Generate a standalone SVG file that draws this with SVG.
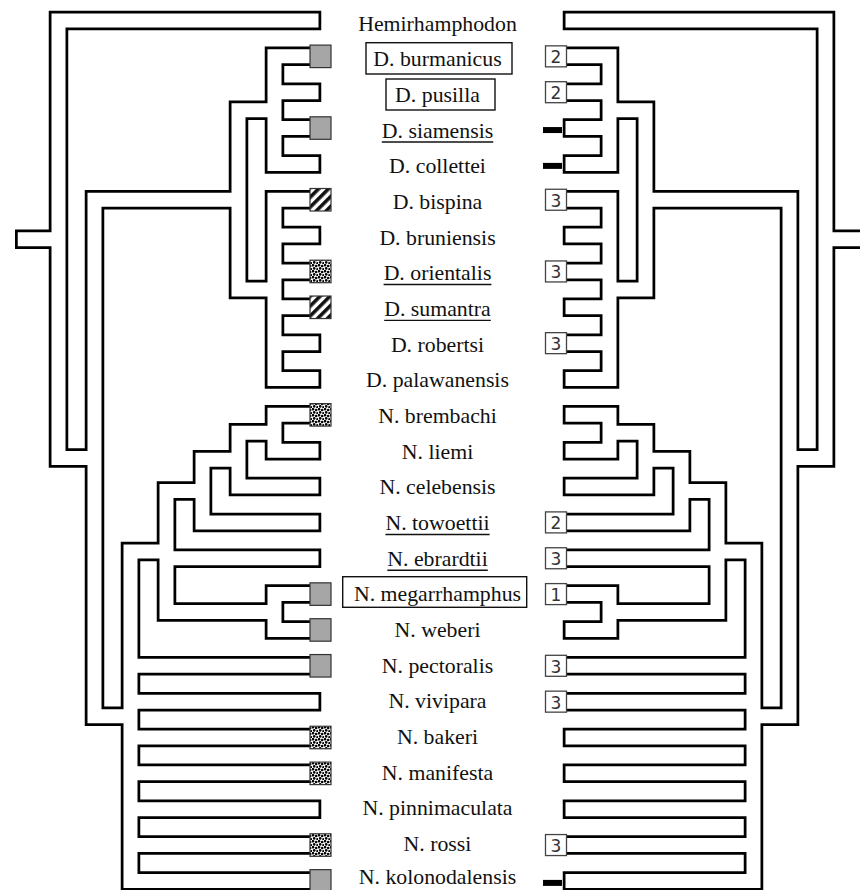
<svg xmlns="http://www.w3.org/2000/svg" xmlns:xlink="http://www.w3.org/1999/xlink" width="860" height="890" viewBox="0 0 860 890">
<defs>
<style>
.tb{fill:none;stroke:#000;stroke-width:19.5;stroke-linecap:square;stroke-linejoin:miter}
.tw{fill:none;stroke:#fff;stroke-width:14;stroke-linecap:square;stroke-linejoin:miter}
.lbl{font-family:'Liberation Serif','Times New Roman',serif;font-size:21.8px;fill:#111;text-anchor:middle}
.num{font-family:'DejaVu Sans',Verdana,sans-serif;font-size:17px;fill:#333;text-anchor:middle}
.gray{fill:#a6a6a6;stroke:#333;stroke-width:1.2}
.hat{fill:url(#hatch);stroke:#333;stroke-width:1.2}
.dot{fill:url(#dots);stroke:#333;stroke-width:1.2}
.nb{fill:#fff;stroke:#444;stroke-width:1.3}
.dash{fill:#000}
.ul{stroke:#111;stroke-width:1.4}
.lb{fill:none;stroke:#111;stroke-width:1.4}
</style>
<pattern id="hatch" patternUnits="userSpaceOnUse" width="7" height="7" patternTransform="rotate(45)"><rect width="7" height="7" fill="#fff"/><rect width="3.6" height="7" fill="#111"/></pattern>
<pattern id="dots" patternUnits="userSpaceOnUse" width="6" height="6"><rect width="6" height="6" fill="#fff"/><g fill="#000"><circle cx="1" cy="1.2" r="1.3"/><circle cx="4.2" cy="2" r="1.3"/><circle cx="2.2" cy="4.4" r="1.3"/><circle cx="5.3" cy="5.2" r="1.1"/></g></pattern>
<path id="tree" d="M24.75 239.24H58.5 M58.5 20.5V457.98 M58.5 20.5H311.5 M58.5 457.98H94.5 M94.5 199.75V716.2 M94.5 199.75H238.5 M238.5 110.13V289.38 M238.5 110.13H274.5 M238.5 289.38H274.5 M274.5 56.35V163.9 M274.5 56.35H311.5 M274.5 92.2H311.5 M274.5 128.05H311.5 M274.5 163.9H311.5 M274.5 199.75V379 M274.5 199.75H311.5 M274.5 235.6H311.5 M274.5 271.45H311.5 M274.5 307.3H311.5 M274.5 343.15H311.5 M274.5 379H311.5 M94.5 716.2H130.5 M130.5 551.53V880.9 M130.5 551.53H166.5 M130.5 665.8H311.5 M130.5 701.65H311.5 M130.5 737.5H311.5 M130.5 773.35H311.5 M130.5 809.2H311.5 M130.5 845.05H311.5 M130.5 880.9H311.5 M166.5 491.03V612.03 M166.5 491.03H202.5 M166.5 558.25H311.5 M166.5 612.03H274.5 M202.5 459.66V522.4 M202.5 459.66H238.5 M202.5 522.4H311.5 M238.5 432.78V486.55 M238.5 432.78H274.5 M238.5 486.55H311.5 M274.5 414.85V450.7 M274.5 414.85H311.5 M274.5 450.7H311.5 M274.5 594.1V629.95 M274.5 594.1H311.5 M274.5 629.95H311.5"/>
</defs>
<rect width="860" height="890" fill="#fff"/>
<g id="connectors">
<g id="left-tree"><use href="#tree" xlink:href="#tree" class="tb"/><use href="#tree" xlink:href="#tree" class="tw"/></g>
<g id="right-tree" transform="matrix(-1 0 0 1 884 0)"><use href="#tree" xlink:href="#tree" class="tb"/><use href="#tree" xlink:href="#tree" class="tw"/></g>
</g>
<g id="n-hemirhamphodon"><text class="lbl" x="437.5" y="30.5">Hemirhamphodon</text></g>
<g id="n-burmanicus"><rect class="gray" x="310" y="45.1" width="21" height="22.5"/><rect class="lb" x="366" y="42.7" width="146" height="31.3"/><text class="lbl" x="437.5" y="66.18">D. burmanicus</text><rect class="nb" x="545.5" y="45.85" width="21" height="21"/><text class="num" x="556" y="63.35">2</text></g>
<g id="n-pusilla"><rect class="lb" x="386" y="79" width="109" height="31"/><text class="lbl" x="437.5" y="101.86">D. pusilla</text><rect class="nb" x="545.5" y="81.7" width="21" height="21"/><text class="num" x="556" y="99.2">2</text></g>
<g id="n-siamensis"><rect class="gray" x="310" y="116.8" width="21" height="22.5"/><text class="lbl" x="437.5" y="137.54">D. siamensis</text><line class="ul" x1="381.8" y1="142" x2="493.2" y2="142"/><rect class="dash" x="543" y="127.05" width="19" height="6"/></g>
<g id="n-collettei"><text class="lbl" x="437.5" y="173.22">D. collettei</text><rect class="dash" x="543" y="162.9" width="19" height="6"/></g>
<g id="n-bispina"><rect class="hat" x="310" y="188.5" width="21" height="22.5"/><text class="lbl" x="437.5" y="208.9">D. bispina</text><rect class="nb" x="545.5" y="189.25" width="21" height="21"/><text class="num" x="556" y="206.75">3</text></g>
<g id="n-bruniensis"><text class="lbl" x="437.5" y="244.58">D. bruniensis</text></g>
<g id="n-orientalis"><rect class="dot" x="310" y="260.2" width="21" height="22.5"/><text class="lbl" x="437.5" y="280.26">D. orientalis</text><line class="ul" x1="383.6" y1="284.5" x2="491.4" y2="284.5"/><rect class="nb" x="545.5" y="260.95" width="21" height="21"/><text class="num" x="556" y="278.45">3</text></g>
<g id="n-sumantra"><rect class="hat" x="310" y="296.05" width="21" height="22.5"/><text class="lbl" x="437.5" y="315.94">D. sumantra</text><line class="ul" x1="384.2" y1="320.4" x2="490.8" y2="320.4"/></g>
<g id="n-robertsi"><text class="lbl" x="437.5" y="351.62">D. robertsi</text><rect class="nb" x="545.5" y="332.65" width="21" height="21"/><text class="num" x="556" y="350.15">3</text></g>
<g id="n-palawanensis"><text class="lbl" x="437.5" y="387.3">D. palawanensis</text></g>
<g id="n-brembachi"><rect class="dot" x="310" y="403.6" width="21" height="22.5"/><text class="lbl" x="437.5" y="422.98">N. brembachi</text></g>
<g id="n-liemi"><text class="lbl" x="437.5" y="458.66">N. liemi</text></g>
<g id="n-celebensis"><text class="lbl" x="437.5" y="494.34">N. celebensis</text></g>
<g id="n-towoettii"><text class="lbl" x="437.5" y="530.02">N. towoettii</text><line class="ul" x1="385.4" y1="534.5" x2="489.6" y2="534.5"/><rect class="nb" x="545.5" y="511.9" width="21" height="21"/><text class="num" x="556" y="529.4">2</text></g>
<g id="n-ebrardtii"><text class="lbl" x="437.5" y="565.7">N. ebrardtii</text><line class="ul" x1="387.3" y1="570.2" x2="487.8" y2="570.2"/><rect class="nb" x="545.5" y="547.75" width="21" height="21"/><text class="num" x="556" y="565.25">3</text></g>
<g id="n-megarrhamphus"><rect class="gray" x="310" y="582.85" width="21" height="22.5"/><rect class="lb" x="342.7" y="576.7" width="184" height="30.6"/><text class="lbl" x="437.5" y="601.38">N. megarrhamphus</text><rect class="nb" x="545.5" y="583.6" width="21" height="21"/><text class="num" x="556" y="601.1">1</text></g>
<g id="n-weberi"><rect class="gray" x="310" y="618.7" width="21" height="22.5"/><text class="lbl" x="437.5" y="637.06">N. weberi</text></g>
<g id="n-pectoralis"><rect class="gray" x="310" y="654.55" width="21" height="22.5"/><text class="lbl" x="437.5" y="672.74">N. pectoralis</text><rect class="nb" x="545.5" y="655.3" width="21" height="21"/><text class="num" x="556" y="672.8">3</text></g>
<g id="n-vivipara"><text class="lbl" x="437.5" y="708.42">N. vivipara</text><rect class="nb" x="545.5" y="691.15" width="21" height="21"/><text class="num" x="556" y="708.65">3</text></g>
<g id="n-bakeri"><rect class="dot" x="310" y="726.25" width="21" height="22.5"/><text class="lbl" x="437.5" y="744.1">N. bakeri</text></g>
<g id="n-manifesta"><rect class="dot" x="310" y="762.1" width="21" height="22.5"/><text class="lbl" x="437.5" y="779.78">N. manifesta</text></g>
<g id="n-pinnimaculata"><text class="lbl" x="437.5" y="815.46">N. pinnimaculata</text></g>
<g id="n-rossi"><rect class="dot" x="310" y="833.8" width="21" height="22.5"/><text class="lbl" x="437.5" y="851.14">N. rossi</text><rect class="nb" x="545.5" y="834.55" width="21" height="21"/><text class="num" x="556" y="852.05">3</text></g>
<g id="n-kolonodalensis"><rect class="gray" x="310" y="869.65" width="21" height="22.5"/><text class="lbl" x="437.5" y="884.3">N. kolonodalensis</text><rect class="dash" x="543" y="879.9" width="19" height="6"/></g>
</svg>
